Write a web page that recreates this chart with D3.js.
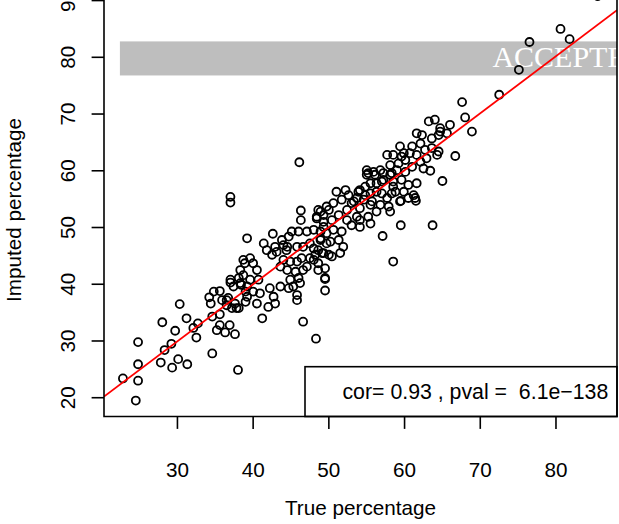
<!DOCTYPE html>
<html>
<head>
<meta charset="utf-8">
<script src="https://cdn.jsdelivr.net/npm/d3@7"></script>
<style>
body { margin: 0; background: #fff; }
text { font-family: "Liberation Sans", Arial, sans-serif; }
</style>
</head>
<body>
<script>
// axis ticks
var xTicks = [30, 40, 50, 60, 70, 80];
var yTicks = [20, 30, 40, 50, 60, 70, 80, 90];

// regression line: intercept, slope
var fit = [-0.2, 1.005];
var corLabel = "cor= 0.93 , pval =  6.1e\u2212138";

// grey band and its stamp (x start, y low, y high)
var band = [22.4, 76.8, 82.8];
var stamp = ["ACCEPTED", 71.6, 78.3];

// true vs imputed percentage
var pts = [
[30.3,36.5],[28.0,33.3],[29.7,31.8],[31.2,34.0],[32.7,33.1],[32.1,32.3],[32.5,30.6],[24.8,29.8],
[29.2,29.5],[28.3,28.4],[27.8,26.2],[29.3,25.3],[30.1,26.8],[31.3,25.9],[24.8,25.9],[22.8,23.4],
[24.8,23.0],[24.5,19.5],[34.6,27.8],[38.0,24.9],[35.2,31.9],[36.3,31.5],[37.6,31.2],[36.9,32.8],
[34.6,34.3],[35.6,34.7],[34.4,36.6],[34.2,37.7],[34.8,38.7],[35.6,38.8],[36.7,37.6],[36.5,36.3],
[37.8,35.8],[39.0,36.9],[37.0,40.3],[38.4,39.9],[39.0,38.7],
[39.2,48.1],[37.0,55.4],[37.0,54.4],[46.1,61.5],[42.6,48.9],[41.4,47.2],[46.3,53.0],[46.3,51.3],
[48.6,53.1],[49.7,53.7],[48.4,51.9],[49.3,52.2],[49.3,50.1],[48.0,49.6],[47.1,49.3],[46.0,49.3],
[45.1,49.3],[44.7,48.4],[43.8,47.8],[44.0,46.9],[42.9,46.6],[41.8,46.0],[42.5,45.2],[43.1,45.7],
[44.4,46.0],[45.8,46.6],[46.6,46.6],[47.5,47.2],[48.9,47.8],[48.6,46.0],[49.3,45.5],[48.2,45.2],
[47.5,44.6],[48.6,43.7],[49.5,42.8],[48.6,42.5],[49.5,41.1],[46.4,44.6],[45.8,44.0],[44.9,44.0],
[44.0,44.3],[43.6,43.1],[44.5,42.5],[45.6,42.2],[46.6,42.5],[47.1,43.1],[46.0,41.1],[44.9,40.8],
[45.3,39.6],[46.2,40.2],[45.8,38.1],[46.6,33.4],[41.2,34.0],[42.2,39.3],[40.9,38.4],[40.0,38.7],
[39.2,37.8],[40.5,36.6],[42.0,36.0],[38.1,35.8],[37.2,35.8],[36.5,37.2],[35.9,37.2],[37.0,40.8],
[38.1,41.1],[38.7,41.6],[38.3,42.5],[38.9,43.7],[39.6,44.6],[38.7,44.3],[40.0,43.7],[40.5,42.5],
[40.7,40.8],[39.6,40.8],[39.2,39.6],[38.3,40.2],[37.4,39.6],[37.6,36.6],[35.6,32.8],[42.9,36.6],
[42.7,37.8],[43.6,39.6],[44.7,39.3],[45.8,37.2],[49.7,47.2],[50.0,45.2],[48.9,49.3],
[48.3,30.4],[49.5,38.9],[49.5,40.9],
[58.5,44.0],[57.1,48.5],[59.5,50.4],[59.5,54.7],[60.5,55.2],[51.0,56.3],[52.2,56.6],[52.6,55.7],
[51.7,54.9],[50.6,54.3],[50.0,53.1],[48.9,52.8],[48.4,51.6],[49.3,51.0],[50.4,51.3],[51.3,52.2],
[52.4,53.1],[53.0,54.3],[53.7,55.2],[54.1,56.6],[54.8,57.2],[55.2,59.6],[55.0,60.1],[56.1,59.3],
[56.8,60.1],[57.2,58.4],[56.3,57.8],[57.0,56.0],[55.5,56.0],[54.6,54.9],[55.7,54.6],[56.8,54.0],
[57.9,53.7],[58.1,52.8],[57.7,55.2],[58.3,56.0],[58.5,57.2],[58.3,59.6],[58.1,61.0],[57.7,62.8],
[58.5,62.8],[59.4,64.3],[59.9,63.1],[59.2,61.3],[60.1,61.9],[52.4,51.3],[53.7,51.9],[53.0,50.4],
[54.1,50.1],[51.7,49.3],[50.6,49.6],[49.7,49.0],[48.9,48.1],[50.2,47.5],[51.3,47.8],[51.9,46.6],
[51.5,45.5],[50.4,44.9],[49.1,45.5],[48.0,46.3],[48.0,44.3],[44.5,46.6],[54.1,51.3],[55.2,51.9],
[56.3,52.8],[55.5,50.7],
[67.6,72.1],[68.0,69.4],[68.9,66.9],[66.7,62.6],[65.0,58.2],[63.4,60.0],[61.6,57.8],[61.4,55.2],
[61.2,55.7],[63.2,68.7],[64.0,69.0],[64.7,67.5],[66.0,68.1],[65.6,66.6],[64.5,66.3],[63.6,65.7],
[62.3,66.3],[61.6,66.6],[62.1,64.8],[61.0,64.3],[60.7,63.1],[59.6,62.5],[61.6,62.8],[62.7,63.7],
[63.6,64.0],[64.5,63.4],[64.3,62.8],[62.9,62.2],[62.1,61.6],[62.5,60.4],[61.0,60.7],[60.1,59.8],
[59.0,60.1],[58.1,59.3],[57.2,59.6],[57.0,58.1],[58.5,58.1],[59.6,58.4],[60.5,57.5],[59.9,56.3],
[58.8,56.3],[56.3,56.3],[55.5,57.8],[55.0,59.3],[55.9,59.8],[54.8,55.7],[53.9,56.3],[53.3,54.6],
[54.1,53.4],[55.5,54.0],[59.4,54.6],[64.7,66.9],[63.7,50.4],[61.5,54.7],
[75.1,77.8],[72.5,73.4],[76.5,82.7],[80.6,85.0],[81.8,83.2],[85.5,90.8]
];

var W = 619, H = 524;
var padL = 104, padR = 617, padB = 416.5, padT = -19.3;
var fs = 20.7;

var svg = d3.select("body").append("svg")
  .attr("width", W)
  .attr("height", H);

svg.append("rect").attr("width", W).attr("height", H).attr("fill", "#fff");

var x = d3.scaleLinear().domain([20.3, 88.06]).range([padL, padR]);
var y = d3.scaleLinear().domain([16.69, 93.5]).range([padB, padT]);

svg.append("clipPath").attr("id", "plotclip")
  .append("rect")
  .attr("x", padL).attr("y", padT)
  .attr("width", padR - padL).attr("height", padB - padT);

var plot = svg.append("g").attr("clip-path", "url(#plotclip)");

// grey band
plot.append("rect")
  .attr("x", x(band[0]))
  .attr("y", y(band[2]))
  .attr("width", padR - x(band[0]) + 5)
  .attr("height", y(band[1]) - y(band[2]))
  .attr("fill", "#bebebe");

plot.append("text")
  .attr("x", x(stamp[1]))
  .attr("y", y(stamp[2]))
  .attr("fill", "#fff")
  .style("font-family", "'Liberation Serif', 'Times New Roman', serif")
  .style("font-size", "30px")
  .text(stamp[0]);

// points
plot.selectAll("circle.pt")
  .data(pts)
  .enter().append("circle")
  .attr("class", "pt")
  .attr("cx", function(d) { return x(d[0]); })
  .attr("cy", function(d) { return y(d[1]); })
  .attr("r", 4)
  .attr("fill", "none")
  .attr("stroke", "#000")
  .attr("stroke-width", 1.8);

// fitted line
var xd = x.domain();
plot.append("line")
  .attr("x1", x(xd[0])).attr("y1", y(fit[0] + fit[1] * xd[0]))
  .attr("x2", x(xd[1])).attr("y2", y(fit[0] + fit[1] * xd[1]))
  .attr("stroke", "#ff0000")
  .attr("stroke-width", 1.8);

// legend box (bottom right)
var lg = svg.append("g");
lg.append("rect")
  .attr("x", padR - 312)
  .attr("y", padB - 49.8)
  .attr("width", 312)
  .attr("height", 49.8)
  .attr("fill", "#fff")
  .attr("stroke", "#000")
  .attr("stroke-width", 1.6);
lg.append("text")
  .attr("x", padR - 8.7)
  .attr("y", padB - 17.5)
  .attr("text-anchor", "end")
  .style("font-size", "21.3px")
  .style("white-space", "pre")
  .attr("xml:space", "preserve")
  .text(corLabel);

// box
svg.append("path")
  .attr("d", "M" + padL + "," + (padT - 5) + "V" + padB + "H" + padR + "V" + (padT - 5))
  .attr("fill", "none")
  .attr("stroke", "#000")
  .attr("stroke-width", 1.6);

// x axis
var gx = svg.append("g");
gx.selectAll("line").data(xTicks).enter().append("line")
  .attr("x1", function(d) { return x(d); }).attr("x2", function(d) { return x(d); })
  .attr("y1", padB).attr("y2", padB + 12.4)
  .attr("stroke", "#000").attr("stroke-width", 1.6);
gx.selectAll("text").data(xTicks).enter().append("text")
  .attr("x", function(d) { return x(d); })
  .attr("y", 477)
  .attr("text-anchor", "middle")
  .style("font-size", fs + "px")
  .text(function(d) { return d; });

// y axis
var gy = svg.append("g");
gy.selectAll("line").data(yTicks).enter().append("line")
  .attr("x1", padL).attr("x2", padL - 12.4)
  .attr("y1", function(d) { return y(d); }).attr("y2", function(d) { return y(d); })
  .attr("stroke", "#000").attr("stroke-width", 1.6);
gy.selectAll("text").data(yTicks).enter().append("text")
  .attr("transform", function(d) { return "translate(75," + y(d) + ") rotate(-90)"; })
  .attr("text-anchor", "middle")
  .style("font-size", fs + "px")
  .text(function(d) { return d; });

// titles
svg.append("text")
  .attr("x", (padL + padR) / 2)
  .attr("y", 515)
  .attr("text-anchor", "middle")
  .style("font-size", fs + "px")
  .text("True percentage");

svg.append("text")
  .attr("transform", "translate(21,210) rotate(-90)")
  .attr("text-anchor", "middle")
  .style("font-size", fs + "px")
  .text("Imputed percentage");
</script>
</body>
</html>
